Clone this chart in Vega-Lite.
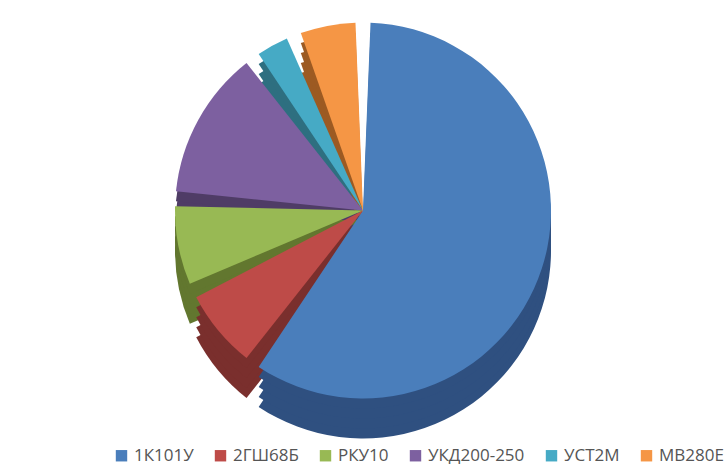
{
  "$schema": "https://vega.github.io/schema/vega-lite/v6.json",
  "width": 726,
  "height": 466,
  "autosize": {"type": "fit", "contains": "padding"},
  "padding": {"top": 5, "left": 5, "right": 5, "bottom": 50},
  "background": "white",
  "config": {"view": {"stroke": null}},
  "data": {"values": [
    {"k": 1, "name": "1К101У", "value": 60},
    {"k": 2, "name": "2ГШ68Б", "value": 8},
    {"k": 3, "name": "РКУ10", "value": 8},
    {"k": 4, "name": "УКД200-250", "value": 14},
    {"k": 5, "name": "УСТ2М", "value": 4},
    {"k": 6, "name": "МВ280Е", "value": 6}
  ]},
  "encoding": {
    "theta": {"field": "value", "type": "quantitative", "stack": true},
    "order": {"field": "k", "type": "quantitative"}
  },
  "layer": [
    {"mark": {"type": "arc", "outerRadius": 188, "padAngle": 0.08, "yOffset": 40},
     "encoding": {"color": {"field": "name", "type": "nominal",
       "scale": {"domain": ["1К101У","2ГШ68Б","РКУ10","УКД200-250","УСТ2М","МВ280Е"], "range": ["#2F5080","#7A2F2D","#62772F","#4F3C66","#2E6F80","#9C5A22"]}, "legend": null}}},
    {"mark": {"type": "arc", "outerRadius": 188, "padAngle": 0.08, "yOffset": 30},
     "encoding": {"color": {"field": "name", "type": "nominal",
       "scale": {"domain": ["1К101У","2ГШ68Б","РКУ10","УКД200-250","УСТ2М","МВ280Е"], "range": ["#2F5080","#7A2F2D","#62772F","#4F3C66","#2E6F80","#9C5A22"]}, "legend": null}}},
    {"mark": {"type": "arc", "outerRadius": 188, "padAngle": 0.08, "yOffset": 20},
     "encoding": {"color": {"field": "name", "type": "nominal",
       "scale": {"domain": ["1К101У","2ГШ68Б","РКУ10","УКД200-250","УСТ2М","МВ280Е"], "range": ["#2F5080","#7A2F2D","#62772F","#4F3C66","#2E6F80","#9C5A22"]}, "legend": null}}},
    {"mark": {"type": "arc", "outerRadius": 188, "padAngle": 0.08, "yOffset": 10},
     "encoding": {"color": {"field": "name", "type": "nominal",
       "scale": {"domain": ["1К101У","2ГШ68Б","РКУ10","УКД200-250","УСТ2М","МВ280Е"], "range": ["#2F5080","#7A2F2D","#62772F","#4F3C66","#2E6F80","#9C5A22"]}, "legend": null}}},
    {"mark": {"type": "arc", "outerRadius": 188, "padAngle": 0.08},
     "encoding": {"color": {"field": "name", "type": "nominal",
       "sort": ["1К101У","2ГШ68Б","РКУ10","УКД200-250","УСТ2М","МВ280Е"],
       "scale": {"domain": ["1К101У","2ГШ68Б","РКУ10","УКД200-250","УСТ2М","МВ280Е"], "range": ["#4A7EBB","#BE4B48","#98B954","#7D60A0","#46AAC5","#F59645"]},
       "legend": {"orient": "none", "legendX": 108, "legendY": 442, "direction": "horizontal", "title": null, "symbolType": "square", "symbolSize": 130, "labelFontSize": 17, "labelFont": "Open Sans", "labelColor": "#555555", "columnPadding": 18, "labelOffset": 4}}}}
  ],
  "resolve": {"scale": {"color": "independent"}}
}
